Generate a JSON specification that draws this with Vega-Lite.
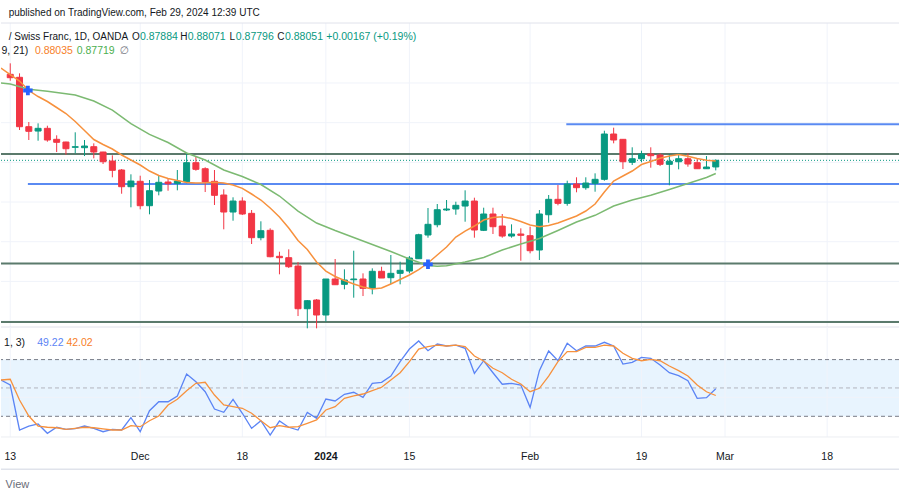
{
"$schema": "https://vega.github.io/schema/vega-lite/v6.json",
"width": 900, "height": 500,
"autosize": {"type": "fit", "contains": "padding"},
"padding": 0,
"background": "#ffffff",
"config": {"view": {"stroke": null}, "font": "Liberation Sans"},
"datasets": {
"one": [{}],
"candles": [
{"i":0,"o":0.90218,"h":0.90495,"l":0.90057,"c":0.90133},
{"i":1,"o":0.90143,"h":0.90243,"l":0.88815,"c":0.88898},
{"i":2,"o":0.88898,"h":0.89016,"l":0.88563,"c":0.88782},
{"i":3,"o":0.88789,"h":0.88983,"l":0.88545,"c":0.88857},
{"i":4,"o":0.88857,"h":0.88923,"l":0.88520,"c":0.88563},
{"i":5,"o":0.88580,"h":0.88681,"l":0.88260,"c":0.88505},
{"i":6,"o":0.88512,"h":0.88520,"l":0.88192,"c":0.88343},
{"i":7,"o":0.88379,"h":0.88757,"l":0.88227,"c":0.88394},
{"i":8,"o":0.88369,"h":0.88563,"l":0.88159,"c":0.88411},
{"i":9,"o":0.88394,"h":0.88479,"l":0.88101,"c":0.88260},
{"i":10,"o":0.88260,"h":0.88265,"l":0.87958,"c":0.88016},
{"i":11,"o":0.88033,"h":0.88177,"l":0.87623,"c":0.87799},
{"i":12,"o":0.87807,"h":0.87832,"l":0.87209,"c":0.87386},
{"i":13,"o":0.87386,"h":0.87698,"l":0.86867,"c":0.87529},
{"i":14,"o":0.87522,"h":0.87663,"l":0.86816,"c":0.86907},
{"i":15,"o":0.86907,"h":0.87555,"l":0.86690,"c":0.87285},
{"i":16,"o":0.87277,"h":0.87681,"l":0.87169,"c":0.87497},
{"i":17,"o":0.87504,"h":0.87587,"l":0.87285,"c":0.87461},
{"i":18,"o":0.87471,"h":0.87807,"l":0.87295,"c":0.87529},
{"i":19,"o":0.87512,"h":0.88227,"l":0.87471,"c":0.87991},
{"i":20,"o":0.87991,"h":0.88142,"l":0.87789,"c":0.87824},
{"i":21,"o":0.87839,"h":0.87875,"l":0.87252,"c":0.87504},
{"i":22,"o":0.87522,"h":0.87807,"l":0.86925,"c":0.87169},
{"i":23,"o":0.87177,"h":0.87320,"l":0.86312,"c":0.86748},
{"i":24,"o":0.86748,"h":0.87119,"l":0.86529,"c":0.87025},
{"i":25,"o":0.87025,"h":0.87119,"l":0.86673,"c":0.86698},
{"i":26,"o":0.86715,"h":0.86799,"l":0.85942,"c":0.86101},
{"i":27,"o":0.86101,"h":0.86514,"l":0.86035,"c":0.86277},
{"i":28,"o":0.86287,"h":0.86337,"l":0.85607,"c":0.85622},
{"i":29,"o":0.85632,"h":0.85748,"l":0.85178,"c":0.85597},
{"i":30,"o":0.85597,"h":0.85808,"l":0.85337,"c":0.85370},
{"i":31,"o":0.85387,"h":0.85488,"l":0.84127,"c":0.84311},
{"i":32,"o":0.84311,"h":0.84531,"l":0.83817,"c":0.84513},
{"i":33,"o":0.84531,"h":0.84556,"l":0.83817,"c":0.84153},
{"i":34,"o":0.84153,"h":0.85060,"l":0.83984,"c":0.85060},
{"i":35,"o":0.85060,"h":0.85564,"l":0.84916,"c":0.84916},
{"i":36,"o":0.84926,"h":0.85304,"l":0.84800,"c":0.85035},
{"i":37,"o":0.85042,"h":0.85773,"l":0.84589,"c":0.85060},
{"i":38,"o":0.85060,"h":0.85203,"l":0.84631,"c":0.84825},
{"i":39,"o":0.84825,"h":0.85329,"l":0.84674,"c":0.85254},
{"i":40,"o":0.85254,"h":0.85370,"l":0.85085,"c":0.85085},
{"i":41,"o":0.85093,"h":0.85665,"l":0.84934,"c":0.85203},
{"i":42,"o":0.85203,"h":0.85496,"l":0.84926,"c":0.85279},
{"i":43,"o":0.85261,"h":0.85639,"l":0.85203,"c":0.85589},
{"i":44,"o":0.85571,"h":0.86201,"l":0.85564,"c":0.86176},
{"i":45,"o":0.86169,"h":0.86849,"l":0.86101,"c":0.86438},
{"i":46,"o":0.86428,"h":0.86950,"l":0.86363,"c":0.86806},
{"i":47,"o":0.86799,"h":0.87051,"l":0.86773,"c":0.86824},
{"i":48,"o":0.86824,"h":0.87008,"l":0.86680,"c":0.86917},
{"i":49,"o":0.86899,"h":0.87295,"l":0.86504,"c":0.87025},
{"i":50,"o":0.87025,"h":0.87109,"l":0.86101,"c":0.86295},
{"i":51,"o":0.86287,"h":0.86857,"l":0.86269,"c":0.86698},
{"i":52,"o":0.86698,"h":0.86857,"l":0.86194,"c":0.86378},
{"i":53,"o":0.86395,"h":0.86698,"l":0.86101,"c":0.86143},
{"i":54,"o":0.86143,"h":0.86438,"l":0.86101,"c":0.86194},
{"i":55,"o":0.86194,"h":0.86337,"l":0.85521,"c":0.86161},
{"i":56,"o":0.86151,"h":0.86378,"l":0.85707,"c":0.85773},
{"i":57,"o":0.85791,"h":0.86799,"l":0.85539,"c":0.86698},
{"i":58,"o":0.86680,"h":0.87177,"l":0.86479,"c":0.87068},
{"i":59,"o":0.87068,"h":0.87429,"l":0.86917,"c":0.86967},
{"i":60,"o":0.86967,"h":0.87537,"l":0.86907,"c":0.87454},
{"i":61,"o":0.87454,"h":0.87623,"l":0.87245,"c":0.87361},
{"i":62,"o":0.87361,"h":0.87623,"l":0.87310,"c":0.87479},
{"i":63,"o":0.87471,"h":0.87723,"l":0.87260,"c":0.87572},
{"i":64,"o":0.87572,"h":0.88797,"l":0.87537,"c":0.88714},
{"i":65,"o":0.88714,"h":0.88873,"l":0.88479,"c":0.88563},
{"i":66,"o":0.88580,"h":0.88585,"l":0.87832,"c":0.88016},
{"i":67,"o":0.88001,"h":0.88379,"l":0.87933,"c":0.88091},
{"i":68,"o":0.88091,"h":0.88293,"l":0.88001,"c":0.88210},
{"i":69,"o":0.88210,"h":0.88379,"l":0.87865,"c":0.88167},
{"i":70,"o":0.88185,"h":0.88227,"l":0.87907,"c":0.87950},
{"i":71,"o":0.87950,"h":0.88210,"l":0.87421,"c":0.88026},
{"i":72,"o":0.88016,"h":0.88227,"l":0.87824,"c":0.88091},
{"i":73,"o":0.88091,"h":0.88227,"l":0.87890,"c":0.87958},
{"i":74,"o":0.87991,"h":0.88084,"l":0.87839,"c":0.87839},
{"i":75,"o":0.87839,"h":0.88159,"l":0.87835,"c":0.87882},
{"i":76,"o":0.87884,"h":0.88071,"l":0.87796,"c":0.88051}
],
"ema21": [
{"i":-1,"v":0.89999},{"i":0,"v":0.89974},{"i":2,"v":0.89840},{"i":4,"v":0.89792},{"i":7,"v":0.89697},
{"i":9,"v":0.89545},{"i":11,"v":0.89316},{"i":13,"v":0.88978},{"i":15,"v":0.88704},{"i":17,"v":0.88500},
{"i":19,"v":0.88235},{"i":21,"v":0.88059},{"i":23,"v":0.87807},{"i":25,"v":0.87643},{"i":27,"v":0.87441},
{"i":29,"v":0.87151},{"i":31,"v":0.86773},{"i":33,"v":0.86471},{"i":35,"v":0.86282},{"i":37,"v":0.86106},
{"i":39,"v":0.85929},{"i":41,"v":0.85753},{"i":43,"v":0.85564},{"i":45,"v":0.85400},{"i":46,"v":0.85380},
{"i":47,"v":0.85395},{"i":49,"v":0.85488},{"i":51,"v":0.85602},{"i":53,"v":0.85791},{"i":55,"v":0.85942},
{"i":57,"v":0.86080},{"i":59,"v":0.86282},{"i":61,"v":0.86496},{"i":63,"v":0.86665},{"i":65,"v":0.86899},
{"i":67,"v":0.87051},{"i":69,"v":0.87169},{"i":71,"v":0.87315},{"i":73,"v":0.87466},{"i":75,"v":0.87618},
{"i":76,"v":0.87719}
],
"ema9": [
{"i":-1,"v":0.90377},{"i":0,"v":0.90213},{"i":1,"v":0.90049},{"i":2,"v":0.89810},{"i":3,"v":0.89659},
{"i":4,"v":0.89533},{"i":5,"v":0.89382},{"i":6,"v":0.89230},{"i":7,"v":0.89029},{"i":8,"v":0.88802},
{"i":9,"v":0.88575},{"i":10,"v":0.88449},{"i":11,"v":0.88336},{"i":12,"v":0.88185},{"i":13,"v":0.88059},
{"i":14,"v":0.87933},{"i":15,"v":0.87781},{"i":16,"v":0.87668},{"i":17,"v":0.87592},{"i":18,"v":0.87542},
{"i":19,"v":0.87492},{"i":20,"v":0.87479},{"i":21,"v":0.87485},{"i":22,"v":0.87497},{"i":23,"v":0.87479},
{"i":24,"v":0.87429},{"i":25,"v":0.87345},{"i":26,"v":0.87202},{"i":27,"v":0.87051},{"i":28,"v":0.86849},
{"i":29,"v":0.86622},{"i":30,"v":0.86345},{"i":31,"v":0.86030},{"i":32,"v":0.85803},{"i":33,"v":0.85488},
{"i":34,"v":0.85261},{"i":35,"v":0.85123},{"i":36,"v":0.85022},{"i":37,"v":0.84934},{"i":38,"v":0.84858},
{"i":39,"v":0.84808},{"i":40,"v":0.84833},{"i":41,"v":0.84934},{"i":42,"v":0.85047},{"i":43,"v":0.85161},
{"i":44,"v":0.85299},{"i":45,"v":0.85463},{"i":46,"v":0.85665},{"i":47,"v":0.85866},{"i":48,"v":0.86118},
{"i":49,"v":0.86269},{"i":50,"v":0.86395},{"i":51,"v":0.86547},{"i":52,"v":0.86610},{"i":53,"v":0.86630},
{"i":54,"v":0.86584},{"i":55,"v":0.86509},{"i":56,"v":0.86421},{"i":57,"v":0.86378},{"i":58,"v":0.86408},
{"i":59,"v":0.86471},{"i":60,"v":0.86559},{"i":61,"v":0.86647},{"i":62,"v":0.86773},{"i":63,"v":0.86950},
{"i":64,"v":0.87252},{"i":65,"v":0.87529},{"i":66,"v":0.87655},{"i":67,"v":0.87781},{"i":68,"v":0.87945},
{"i":69,"v":0.88021},{"i":70,"v":0.88101},{"i":71,"v":0.88159},{"i":72,"v":0.88197},{"i":73,"v":0.88152},
{"i":74,"v":0.88096},{"i":75,"v":0.88051},{"i":76,"v":0.88035}
],
"stoch": [
{"i":-1,"k":58.4,"d":58.4},{"i":0,"k":53.1,"d":59.2},{"i":1,"k":5.5,"d":37.2},{"i":2,"k":9.7,"d":20.3},
{"i":3,"k":11.9,"d":9.7},{"i":4,"k":2.0,"d":8.4},{"i":5,"k":8.4,"d":7.9},{"i":6,"k":6.2,"d":6.2},
{"i":7,"k":6.9,"d":7.3},{"i":8,"k":9.7,"d":8.4},{"i":9,"k":7.3,"d":7.9},{"i":10,"k":3.7,"d":6.6},
{"i":11,"k":6.2,"d":5.5},{"i":12,"k":5.5,"d":5.5},{"i":13,"k":18.5,"d":10.1},{"i":14,"k":3.7,"d":9.0},
{"i":15,"k":25.9,"d":15.3},{"i":16,"k":35.4,"d":20.3},{"i":17,"k":35.4,"d":32.0},{"i":18,"k":41.5,"d":38.0},
{"i":19,"k":64.8,"d":47.1},{"i":20,"k":56.6,"d":54.9},{"i":21,"k":46.0,"d":56.0},{"i":22,"k":27.7,"d":42.5},
{"i":23,"k":24.2,"d":32.0},{"i":24,"k":38.0,"d":30.2},{"i":25,"k":23.2,"d":28.5},{"i":26,"k":7.3,"d":23.2},
{"i":27,"k":15.3,"d":15.3},{"i":28,"k":0.2,"d":7.9},{"i":29,"k":15.0,"d":10.1},{"i":30,"k":8.4,"d":8.4},
{"i":31,"k":5.5,"d":9.0},{"i":32,"k":24.2,"d":12.6},{"i":33,"k":17.9,"d":16.1},{"i":34,"k":38.3,"d":26.7},
{"i":35,"k":36.2,"d":30.2},{"i":36,"k":43.3,"d":39.0},{"i":37,"k":45.4,"d":41.5},{"i":38,"k":40.1,"d":43.6},
{"i":39,"k":54.9,"d":47.1},{"i":40,"k":56.0,"d":50.7},{"i":41,"k":62.6,"d":58.4},{"i":42,"k":77.8,"d":66.1},
{"i":43,"k":91.2,"d":77.8},{"i":44,"k":99.7,"d":91.2},{"i":45,"k":89.4,"d":93.7},{"i":46,"k":96.5,"d":95.4},
{"i":47,"k":94.4,"d":94.4},{"i":48,"k":95.4,"d":95.4},{"i":49,"k":92.0,"d":93.7},{"i":50,"k":65.5,"d":83.8},
{"i":51,"k":78.8,"d":78.5},{"i":52,"k":66.1,"d":70.8},{"i":53,"k":53.9,"d":66.1},{"i":54,"k":54.9,"d":59.2},
{"i":55,"k":53.1,"d":54.2},{"i":56,"k":29.5,"d":46.0},{"i":57,"k":68.3,"d":49.6},{"i":58,"k":89.1,"d":62.6},
{"i":59,"k":78.8,"d":77.8},{"i":60,"k":97.2,"d":88.4},{"i":61,"k":89.4,"d":88.4},{"i":62,"k":94.4,"d":93.0},
{"i":63,"k":94.4,"d":93.0},{"i":64,"k":98.3,"d":95.4},{"i":65,"k":94.4,"d":94.4},{"i":66,"k":75.3,"d":86.7},
{"i":67,"k":77.1,"d":81.4},{"i":68,"k":82.4,"d":78.8},{"i":69,"k":81.4,"d":80.3},{"i":70,"k":74.3,"d":78.8},
{"i":71,"k":66.1,"d":73.2},{"i":72,"k":63.0,"d":68.3},{"i":73,"k":57.7,"d":62.6},{"i":74,"k":39.0,"d":53.1},
{"i":75,"k":39.7,"d":46.0},{"i":76,"k":49.22,"d":42.02}
],
"ticks": [
{"i":0,"t":"13"},{"i":14,"t":"Dec"},{"i":25,"t":"18"},{"i":34,"t":"2024"},{"i":43,"t":"15"},
{"i":56,"t":"Feb"},{"i":68,"t":"19"},{"i":77,"t":"Mar"},{"i":88,"t":"18"}
],
"priceGrid": [{"p":0.84},{"p":0.85},{"p":0.86},{"p":0.87},{"p":0.88},{"p":0.89},{"p":0.90}],
"levels": [{"p":0.88210},{"p":0.85450},{"p":0.83976}],
"rays": [{"i":1.9,"p":0.87454},{"i":59.9,"p":0.88958}],
"crosses": [{"i":1.9,"p":0.89810},{"i":45,"p":0.85430}]
},
"layer": [
{
"layer": [
{"data": {"name": "priceGrid"}, "mark": {"type": "rule", "color": "#f0f3fa", "strokeWidth": 1},
 "encoding": {"y": {"field": "p", "type": "quantitative", "scale": {"domain": [0.79491, 0.92091], "nice": false, "zero": false}, "axis": null}}},
{"data": {"name": "ticks"}, "mark": {"type": "rule", "color": "#f0f3fa", "strokeWidth": 1, "clip": true},
 "encoding": {
  "x": {"field": "i", "type": "quantitative", "scale": {"domain": [-0.457, 95.2], "nice": false, "zero": false}, "axis": null},
  "y": {"datum": 0.91511, "type": "quantitative", "scale": {"domain": [0.79491, 0.92091], "nice": false, "zero": false}, "axis": null},
  "y2": {"datum": 0.8385}}},
{"data": {"name": "one"}, "mark": {"type": "rule", "color": "#e0e3eb", "strokeWidth": 1},
 "encoding": {"y": {"datum": 0.91511, "type": "quantitative", "scale": {"domain": [0.79491, 0.92091], "nice": false, "zero": false}, "axis": null}}},
{"data": {"name": "one"}, "mark": {"type": "rule", "color": "#e0e3eb", "strokeWidth": 1},
 "encoding": {"y": {"datum": 0.8385, "type": "quantitative", "scale": {"domain": [0.79491, 0.92091], "nice": false, "zero": false}, "axis": null}}},
{"data": {"name": "levels"}, "mark": {"type": "rule", "color": "#5b7a6c", "strokeWidth": 2},
 "encoding": {"y": {"field": "p", "type": "quantitative", "scale": {"domain": [0.79491, 0.92091], "nice": false, "zero": false}, "axis": null}}},
{"data": {"name": "rays"}, "mark": {"type": "rule", "color": "#5a8af2", "strokeWidth": 2, "clip": true},
 "encoding": {
  "x": {"field": "i", "type": "quantitative", "scale": {"domain": [-0.457, 95.2], "nice": false, "zero": false}, "axis": null},
  "x2": {"datum": 96},
  "y": {"field": "p", "type": "quantitative", "scale": {"domain": [0.79491, 0.92091], "nice": false, "zero": false}, "axis": null}}},
{"data": {"name": "one"}, "mark": {"type": "rule", "color": "#089981", "strokeWidth": 1, "strokeDash": [1, 2]},
 "encoding": {"y": {"datum": 0.88051, "type": "quantitative", "scale": {"domain": [0.79491, 0.92091], "nice": false, "zero": false}, "axis": null}}},
{"data": {"name": "candles"}, "mark": {"type": "rule", "strokeWidth": 1, "clip": true},
 "encoding": {
  "x": {"field": "i", "type": "quantitative", "scale": {"domain": [-0.457, 95.2], "nice": false, "zero": false}, "axis": null},
  "y": {"field": "l", "type": "quantitative", "scale": {"domain": [0.79491, 0.92091], "nice": false, "zero": false}, "axis": null},
  "y2": {"field": "h"},
  "color": {"condition": {"test": "datum.c >= datum.o", "value": "#089981"}, "value": "#f23645"}}},
{"data": {"name": "candles"}, "mark": {"type": "bar", "width": 6, "strokeWidth": 1, "clip": true},
 "encoding": {
  "x": {"field": "i", "type": "quantitative", "scale": {"domain": [-0.457, 95.2], "nice": false, "zero": false}, "axis": null},
  "y": {"field": "o", "type": "quantitative", "scale": {"domain": [0.79491, 0.92091], "nice": false, "zero": false}, "axis": null},
  "y2": {"field": "c"},
  "fill": {"condition": {"test": "datum.c >= datum.o", "value": "#089981"}, "value": "#f23645"},
  "stroke": {"condition": {"test": "datum.c >= datum.o", "value": "#089981"}, "value": "#f23645"}}},
{"data": {"name": "ema21"}, "mark": {"type": "line", "color": "#7cba72", "strokeWidth": 1.5, "clip": true},
 "encoding": {
  "x": {"field": "i", "type": "quantitative", "scale": {"domain": [-0.457, 95.2], "nice": false, "zero": false}, "axis": null},
  "y": {"field": "v", "type": "quantitative", "scale": {"domain": [0.79491, 0.92091], "nice": false, "zero": false}, "axis": null}}},
{"data": {"name": "ema9"}, "mark": {"type": "line", "color": "#f7913d", "strokeWidth": 1.5, "clip": true},
 "encoding": {
  "x": {"field": "i", "type": "quantitative", "scale": {"domain": [-0.457, 95.2], "nice": false, "zero": false}, "axis": null},
  "y": {"field": "v", "type": "quantitative", "scale": {"domain": [0.79491, 0.92091], "nice": false, "zero": false}, "axis": null}}},
{"data": {"name": "crosses"}, "mark": {"type": "point", "shape": "cross", "filled": true, "size": 90, "color": "#2962ff", "opacity": 1, "clip": true},
 "encoding": {
  "x": {"field": "i", "type": "quantitative", "scale": {"domain": [-0.457, 95.2], "nice": false, "zero": false}, "axis": null},
  "y": {"field": "p", "type": "quantitative", "scale": {"domain": [0.79491, 0.92091], "nice": false, "zero": false}, "axis": null}}},
{"data": {"name": "one"}, "mark": {"type": "text", "align": "left", "baseline": "middle", "fontSize": 10, "color": "#131722", "clip": true, "text": "published on TradingView.com, Feb 29, 2024 12:39 UTC"},
 "encoding": {
  "x": {"datum": -0.17, "type": "quantitative", "scale": {"domain": [-0.457, 95.2], "nice": false, "zero": false}, "axis": null},
  "y": {"datum": 0.91755, "type": "quantitative", "scale": {"domain": [0.79491, 0.92091], "nice": false, "zero": false}, "axis": null}}},
{"data": {"name": "one"}, "mark": {"type": "text", "align": "left", "baseline": "middle", "fontSize": 10, "color": "#131722", "clip": true, "text": "/ Swiss Franc, 1D, OANDA"},
 "encoding": {
  "x": {"datum": -0.17, "type": "quantitative", "scale": {"domain": [-0.457, 95.2], "nice": false, "zero": false}, "axis": null},
  "y": {"datum": 0.91158, "type": "quantitative", "scale": {"domain": [0.79491, 0.92091], "nice": false, "zero": false}, "axis": null}}},
{"data": {"name": "one"}, "mark": {"type": "text", "align": "left", "baseline": "middle", "fontSize": 10, "color": "#131722", "clip": true, "text": "O"},
 "encoding": {
  "x": {"datum": 13.11, "type": "quantitative", "scale": {"domain": [-0.457, 95.2], "nice": false, "zero": false}, "axis": null},
  "y": {"datum": 0.91158, "type": "quantitative", "scale": {"domain": [0.79491, 0.92091], "nice": false, "zero": false}, "axis": null}}},
{"data": {"name": "one"}, "mark": {"type": "text", "align": "left", "baseline": "middle", "fontSize": 10.5, "color": "#089981", "clip": true, "text": "0.87884"},
 "encoding": {
  "x": {"datum": 13.97, "type": "quantitative", "scale": {"domain": [-0.457, 95.2], "nice": false, "zero": false}, "axis": null},
  "y": {"datum": 0.91158, "type": "quantitative", "scale": {"domain": [0.79491, 0.92091], "nice": false, "zero": false}, "axis": null}}},
{"data": {"name": "one"}, "mark": {"type": "text", "align": "left", "baseline": "middle", "fontSize": 10, "color": "#131722", "clip": true, "text": "H"},
 "encoding": {
  "x": {"datum": 18.32, "type": "quantitative", "scale": {"domain": [-0.457, 95.2], "nice": false, "zero": false}, "axis": null},
  "y": {"datum": 0.91158, "type": "quantitative", "scale": {"domain": [0.79491, 0.92091], "nice": false, "zero": false}, "axis": null}}},
{"data": {"name": "one"}, "mark": {"type": "text", "align": "left", "baseline": "middle", "fontSize": 10.5, "color": "#089981", "clip": true, "text": "0.88071"},
 "encoding": {
  "x": {"datum": 19.12, "type": "quantitative", "scale": {"domain": [-0.457, 95.2], "nice": false, "zero": false}, "axis": null},
  "y": {"datum": 0.91158, "type": "quantitative", "scale": {"domain": [0.79491, 0.92091], "nice": false, "zero": false}, "axis": null}}},
{"data": {"name": "one"}, "mark": {"type": "text", "align": "left", "baseline": "middle", "fontSize": 10, "color": "#131722", "clip": true, "text": "L"},
 "encoding": {
  "x": {"datum": 23.62, "type": "quantitative", "scale": {"domain": [-0.457, 95.2], "nice": false, "zero": false}, "axis": null},
  "y": {"datum": 0.91158, "type": "quantitative", "scale": {"domain": [0.79491, 0.92091], "nice": false, "zero": false}, "axis": null}}},
{"data": {"name": "one"}, "mark": {"type": "text", "align": "left", "baseline": "middle", "fontSize": 10.5, "color": "#089981", "clip": true, "text": "0.87796"},
 "encoding": {
  "x": {"datum": 24.3, "type": "quantitative", "scale": {"domain": [-0.457, 95.2], "nice": false, "zero": false}, "axis": null},
  "y": {"datum": 0.91158, "type": "quantitative", "scale": {"domain": [0.79491, 0.92091], "nice": false, "zero": false}, "axis": null}}},
{"data": {"name": "one"}, "mark": {"type": "text", "align": "left", "baseline": "middle", "fontSize": 10, "color": "#131722", "clip": true, "text": "C"},
 "encoding": {
  "x": {"datum": 28.77, "type": "quantitative", "scale": {"domain": [-0.457, 95.2], "nice": false, "zero": false}, "axis": null},
  "y": {"datum": 0.91158, "type": "quantitative", "scale": {"domain": [0.79491, 0.92091], "nice": false, "zero": false}, "axis": null}}},
{"data": {"name": "one"}, "mark": {"type": "text", "align": "left", "baseline": "middle", "fontSize": 10.5, "color": "#089981", "clip": true, "text": "0.88051"},
 "encoding": {
  "x": {"datum": 29.6, "type": "quantitative", "scale": {"domain": [-0.457, 95.2], "nice": false, "zero": false}, "axis": null},
  "y": {"datum": 0.91158, "type": "quantitative", "scale": {"domain": [0.79491, 0.92091], "nice": false, "zero": false}, "axis": null}}},
{"data": {"name": "one"}, "mark": {"type": "text", "align": "left", "baseline": "middle", "fontSize": 10.5, "color": "#089981", "clip": true, "text": "+0.00167 (+0.19%)"},
 "encoding": {
  "x": {"datum": 34.05, "type": "quantitative", "scale": {"domain": [-0.457, 95.2], "nice": false, "zero": false}, "axis": null},
  "y": {"datum": 0.91158, "type": "quantitative", "scale": {"domain": [0.79491, 0.92091], "nice": false, "zero": false}, "axis": null}}},
{"data": {"name": "one"}, "mark": {"type": "text", "align": "right", "baseline": "middle", "fontSize": 10.5, "color": "#131722", "clip": true, "text": "9, 21)"},
 "encoding": {
  "x": {"datum": 1.95, "type": "quantitative", "scale": {"domain": [-0.457, 95.2], "nice": false, "zero": false}, "axis": null},
  "y": {"datum": 0.90805, "type": "quantitative", "scale": {"domain": [0.79491, 0.92091], "nice": false, "zero": false}, "axis": null}}},
{"data": {"name": "one"}, "mark": {"type": "text", "align": "left", "baseline": "middle", "fontSize": 10.5, "color": "#f7802a", "clip": true, "text": "0.88035"},
 "encoding": {
  "x": {"datum": 2.66, "type": "quantitative", "scale": {"domain": [-0.457, 95.2], "nice": false, "zero": false}, "axis": null},
  "y": {"datum": 0.90805, "type": "quantitative", "scale": {"domain": [0.79491, 0.92091], "nice": false, "zero": false}, "axis": null}}},
{"data": {"name": "one"}, "mark": {"type": "text", "align": "left", "baseline": "middle", "fontSize": 10.5, "color": "#4caf50", "clip": true, "text": "0.87719"},
 "encoding": {
  "x": {"datum": 7.16, "type": "quantitative", "scale": {"domain": [-0.457, 95.2], "nice": false, "zero": false}, "axis": null},
  "y": {"datum": 0.90805, "type": "quantitative", "scale": {"domain": [0.79491, 0.92091], "nice": false, "zero": false}, "axis": null}}},
{"data": {"name": "one"}, "mark": {"type": "text", "align": "left", "baseline": "middle", "fontSize": 10.5, "font": "DejaVu Sans", "color": "#787b86", "clip": true, "text": "∅"},
 "encoding": {
  "x": {"datum": 11.76, "type": "quantitative", "scale": {"domain": [-0.457, 95.2], "nice": false, "zero": false}, "axis": null},
  "y": {"datum": 0.90805, "type": "quantitative", "scale": {"domain": [0.79491, 0.92091], "nice": false, "zero": false}, "axis": null}}}
]
},
{
"layer": [
{"data": {"name": "one"}, "mark": {"type": "rect", "color": "#2196f3", "opacity": 0.1, "clip": true},
 "encoding": {
  "x": {"datum": -1, "type": "quantitative", "scale": {"domain": [-0.457, 95.2], "nice": false, "zero": false}, "axis": null},
  "x2": {"datum": 96},
  "y": {"datum": 20, "type": "quantitative", "scale": {"domain": [-68.57, 460.53], "nice": false, "zero": false}, "axis": null},
  "y2": {"datum": 80}}},
{"data": {"name": "ticks"}, "mark": {"type": "rule", "color": "#f0f3fa", "strokeWidth": 1, "clip": true},
 "encoding": {
  "x": {"field": "i", "type": "quantitative", "scale": {"domain": [-0.457, 95.2], "nice": false, "zero": false}, "axis": null},
  "y": {"datum": 114.5, "type": "quantitative", "scale": {"domain": [-68.57, 460.53], "nice": false, "zero": false}, "axis": null},
  "y2": {"datum": -1.9}}},
{"data": {"name": "one"}, "mark": {"type": "rule", "color": "#f0f3fa", "strokeWidth": 1},
 "encoding": {"y": {"datum": 40, "type": "quantitative", "scale": {"domain": [-68.57, 460.53], "nice": false, "zero": false}, "axis": null}}},
{"data": {"name": "one"}, "mark": {"type": "rule", "color": "#eceef2", "strokeWidth": 1},
 "encoding": {"y": {"datum": -1.9, "type": "quantitative", "scale": {"domain": [-68.57, 460.53], "nice": false, "zero": false}, "axis": null}}},
{"data": {"name": "one"}, "mark": {"type": "rule", "color": "#e0e3eb", "strokeWidth": 1.5},
 "encoding": {"y": {"datum": -36.1, "type": "quantitative", "scale": {"domain": [-68.57, 460.53], "nice": false, "zero": false}, "axis": null}}},
{"data": {"name": "one"}, "mark": {"type": "rule", "color": "#787b86", "strokeWidth": 1, "strokeDash": [4, 3]},
 "encoding": {"y": {"datum": 80, "type": "quantitative", "scale": {"domain": [-68.57, 460.53], "nice": false, "zero": false}, "axis": null}}},
{"data": {"name": "one"}, "mark": {"type": "rule", "color": "#787b86", "strokeWidth": 1, "strokeDash": [4, 3]},
 "encoding": {"y": {"datum": 20, "type": "quantitative", "scale": {"domain": [-68.57, 460.53], "nice": false, "zero": false}, "axis": null}}},
{"data": {"name": "one"}, "mark": {"type": "rule", "color": "#b2b5be", "strokeWidth": 1, "strokeDash": [4, 3]},
 "encoding": {"y": {"datum": 50, "type": "quantitative", "scale": {"domain": [-68.57, 460.53], "nice": false, "zero": false}, "axis": null}}},
{"data": {"name": "stoch"}, "mark": {"type": "line", "color": "#5b84f5", "strokeWidth": 1.3, "clip": true},
 "encoding": {
  "x": {"field": "i", "type": "quantitative", "scale": {"domain": [-0.457, 95.2], "nice": false, "zero": false}, "axis": null},
  "y": {"field": "k", "type": "quantitative", "scale": {"domain": [-68.57, 460.53], "nice": false, "zero": false}, "axis": null}}},
{"data": {"name": "stoch"}, "mark": {"type": "line", "color": "#f7913d", "strokeWidth": 1.3, "clip": true},
 "encoding": {
  "x": {"field": "i", "type": "quantitative", "scale": {"domain": [-0.457, 95.2], "nice": false, "zero": false}, "axis": null},
  "y": {"field": "d", "type": "quantitative", "scale": {"domain": [-68.57, 460.53], "nice": false, "zero": false}, "axis": null}}},
{"data": {"name": "ticks"}, "transform": [{"filter": "datum.t != '2024'"}],
 "mark": {"type": "text", "align": "center", "baseline": "middle", "fontSize": 10.5, "color": "#131722", "clip": true},
 "encoding": {
  "x": {"field": "i", "type": "quantitative", "scale": {"domain": [-0.457, 95.2], "nice": false, "zero": false}, "axis": null},
  "y": {"datum": -23.4, "type": "quantitative", "scale": {"domain": [-68.57, 460.53], "nice": false, "zero": false}, "axis": null},
  "text": {"field": "t"}}},
{"data": {"name": "ticks"}, "transform": [{"filter": "datum.t == '2024'"}],
 "mark": {"type": "text", "align": "center", "baseline": "middle", "fontSize": 10.5, "fontWeight": "bold", "color": "#131722", "clip": true},
 "encoding": {
  "x": {"field": "i", "type": "quantitative", "scale": {"domain": [-0.457, 95.2], "nice": false, "zero": false}, "axis": null},
  "y": {"datum": -23.4, "type": "quantitative", "scale": {"domain": [-68.57, 460.53], "nice": false, "zero": false}, "axis": null},
  "text": {"field": "t"}}},
{"data": {"name": "one"}, "mark": {"type": "text", "align": "left", "baseline": "middle", "fontSize": 11, "color": "#6a6d78", "clip": true, "text": "View"},
 "encoding": {
  "x": {"datum": -0.5, "type": "quantitative", "scale": {"domain": [-0.457, 95.2], "nice": false, "zero": false}, "axis": null},
  "y": {"datum": -52.7, "type": "quantitative", "scale": {"domain": [-68.57, 460.53], "nice": false, "zero": false}, "axis": null}}},
{"data": {"name": "one"}, "mark": {"type": "text", "align": "right", "baseline": "middle", "fontSize": 10.5, "color": "#131722", "clip": true, "text": "1, 3)"},
 "encoding": {
  "x": {"datum": 1.6, "type": "quantitative", "scale": {"domain": [-0.457, 95.2], "nice": false, "zero": false}, "axis": null},
  "y": {"datum": 97.9, "type": "quantitative", "scale": {"domain": [-68.57, 460.53], "nice": false, "zero": false}, "axis": null}}},
{"data": {"name": "one"}, "mark": {"type": "text", "align": "left", "baseline": "middle", "fontSize": 10.5, "color": "#5b84f5", "clip": true, "text": "49.22"},
 "encoding": {
  "x": {"datum": 2.91, "type": "quantitative", "scale": {"domain": [-0.457, 95.2], "nice": false, "zero": false}, "axis": null},
  "y": {"datum": 97.9, "type": "quantitative", "scale": {"domain": [-68.57, 460.53], "nice": false, "zero": false}, "axis": null}}},
{"data": {"name": "one"}, "mark": {"type": "text", "align": "left", "baseline": "middle", "fontSize": 10.5, "color": "#f7802a", "clip": true, "text": "42.02"},
 "encoding": {
  "x": {"datum": 6.05, "type": "quantitative", "scale": {"domain": [-0.457, 95.2], "nice": false, "zero": false}, "axis": null},
  "y": {"datum": 97.9, "type": "quantitative", "scale": {"domain": [-68.57, 460.53], "nice": false, "zero": false}, "axis": null}}}
]
}
],
"resolve": {"scale": {"y": "independent"}}
}
